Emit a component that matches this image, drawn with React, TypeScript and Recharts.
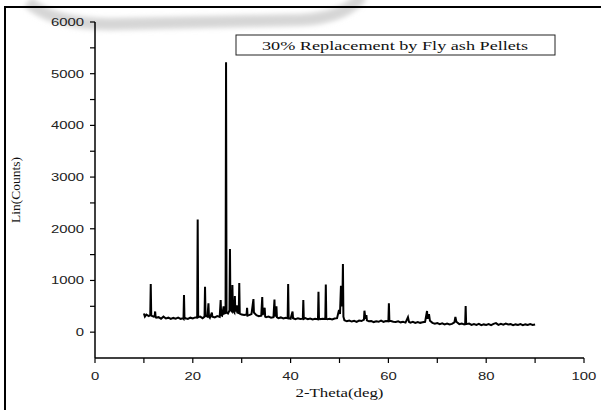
import { LineChart, Line, XAxis, YAxis } from "recharts";

// 2-theta (deg) vs counts
const scan10to30: [number, number][] = [
  [10.0, 360], [10.2, 300], [10.5, 340], [11.0, 310], [11.3, 330], [11.4, 930], [11.5, 320],
  [12.0, 300], [12.2, 310], [12.3, 400], [12.4, 290], [12.5, 280], [13.0, 290], [13.5, 260],
  [14.0, 300], [14.5, 265], [15.0, 280], [15.5, 255], [16.0, 275], [16.5, 260], [17.0, 280],
  [17.5, 255], [18.0, 270], [18.1, 260], [18.2, 720], [18.3, 265], [18.5, 270], [19.0, 255],
  [19.5, 280], [20.0, 265], [20.5, 285], [20.9, 280], [21.0, 2180], [21.1, 290], [21.5, 300],
  [22.0, 270], [22.4, 300], [22.5, 880], [22.6, 320], [23.0, 300], [23.2, 560], [23.3, 310],
  [23.5, 280], [23.9, 380], [24.0, 300], [24.5, 285], [25.0, 310], [25.5, 295], [25.7, 620],
  [25.8, 330], [26.0, 320], [26.3, 500], [26.4, 360], [26.7, 370], [26.8, 5220], [26.9, 380],
  [27.2, 360], [27.5, 420], [27.6, 1610], [27.7, 430], [28.0, 400], [28.1, 910], [28.2, 420],
  [28.5, 380], [28.6, 700], [28.7, 400], [29.0, 520], [29.1, 380], [29.4, 370], [29.5, 950],
  [29.6, 360], [30.0, 340],
];

const scan30to50: [number, number][] = [
  [30.5, 330], [31.0, 340], [31.1, 470], [31.2, 320], [31.5, 330], [32.0, 350], [32.4, 640],
  [32.5, 380], [33.0, 330], [33.5, 310], [34.0, 320], [34.2, 680], [34.3, 330], [34.7, 470],
  [34.8, 300], [35.0, 290], [35.5, 300], [36.0, 280], [36.5, 290], [36.7, 630], [36.8, 300],
  [37.1, 500], [37.2, 290], [37.5, 270], [38.0, 285], [38.5, 265], [39.0, 280], [39.4, 270],
  [39.5, 930], [39.6, 270], [40.0, 260], [40.4, 400], [40.5, 270], [41.0, 250], [41.5, 270],
  [42.0, 255], [42.5, 260], [42.6, 620], [42.7, 255], [43.0, 270], [43.5, 250], [44.0, 265],
  [44.5, 245], [45.0, 260], [45.6, 250], [45.7, 780], [45.8, 270], [46.0, 250], [46.5, 260],
  [47.1, 255], [47.2, 920], [47.3, 260], [47.5, 250], [48.0, 260], [48.5, 245], [49.0, 265],
  [49.5, 270], [49.9, 430], [50.1, 350], [50.3, 895], [50.4, 500], [50.6, 600], [50.7, 1320],
  [50.8, 300], [51.0, 230],
];

const scan50to70: [number, number][] = [
  [51.5, 210], [52.0, 225], [52.5, 205], [53.0, 220], [53.5, 200], [54.0, 225], [54.5, 215],
  [55.0, 240], [55.1, 415], [55.3, 260], [55.5, 330], [55.6, 230], [56.0, 210], [56.5, 215],
  [57.0, 195], [57.5, 210], [58.0, 200], [58.5, 225], [59.0, 200], [59.5, 215], [60.0, 210],
  [60.1, 560], [60.2, 220], [60.5, 215], [61.0, 200], [61.5, 195], [62.0, 210], [62.5, 190],
  [63.0, 200], [63.5, 185], [64.0, 290], [64.2, 200], [64.5, 185], [65.0, 200], [65.5, 180],
  [66.0, 195], [66.5, 180], [67.0, 190], [67.5, 200], [67.9, 410], [68.0, 260], [68.3, 350],
  [68.5, 220], [69.0, 180], [69.5, 165], [70.0, 175],
];

const scan70to90: [number, number][] = [
  [70.5, 155], [71.0, 170], [71.5, 150], [72.0, 165], [72.5, 150], [73.0, 160], [73.5, 190],
  [73.7, 295], [73.9, 200], [74.5, 155], [75.0, 165], [75.5, 150], [75.7, 160], [75.8, 505],
  [75.9, 155], [76.5, 165], [77.0, 140], [77.5, 155], [78.0, 140], [78.5, 160], [79.0, 135],
  [79.5, 150], [80.0, 140], [80.5, 155], [81.0, 135], [81.5, 160], [82.0, 175], [82.5, 140],
  [83.0, 160], [83.5, 145], [84.0, 165], [84.5, 150], [85.0, 155], [85.5, 135], [86.0, 150],
  [86.5, 140], [87.0, 155], [87.5, 135], [88.0, 150], [88.5, 140], [89.0, 155], [89.5, 140],
  [90.0, 150],
];

const xTicks = [0, 10, 20, 30, 40, 50, 60, 70, 80, 90, 100];
const yTicks = [0, 500, 1000, 1500, 2000, 2500, 3000, 3500, 4000, 4500, 5000, 5500, 6000];

const legendText = "30% Replacement by Fly ash Pellets";

const rows = [...scan10to30, ...scan30to50, ...scan50to70, ...scan70to90].map(([x, y]) => ({ x, y }));

const SANS = "'Liberation Sans', Arial, sans-serif";
const SERIF = "'Liberation Serif', 'Times New Roman', serif";

const XTick = ({ x, y, payload }: any) => {
  if (payload.value % 20 !== 0) return null;
  return (
    <g transform={`translate(${x},${y + 15}) scale(1.35,1)`}>
      <text textAnchor="middle" fontSize={11} fontFamily={SANS} fill="#222">
        {payload.value}
      </text>
    </g>
  );
};

const YTick = ({ x, y, payload }: any) => {
  if (payload.value % 1000 !== 0) return null;
  return (
    <g transform={`translate(${x - 4},${y + 4}) scale(1.35,1)`}>
      <text textAnchor="end" fontSize={11} fontFamily={SANS} fill="#222">
        {payload.value}
      </text>
    </g>
  );
};

export default function App() {
  return (
    <div style={{ position: "absolute", left: 0, top: 0, width: 601, height: 410, background: "#fff", overflow: "hidden" }}>
      {/* watermark + page frame */}
      <svg width={601} height={410} style={{ position: "absolute", left: 0, top: 0 }}>
        <defs>
          <filter id="blur" x="-10%" y="-50%" width="120%" height="200%">
            <feGaussianBlur stdDeviation="2.5" />
          </filter>
        </defs>
        <path
          d="M 28 2 Q 55 26 120 24 L 300 20 Q 345 18 362 -4"
          fill="none"
          stroke="#d6d6d6"
          strokeWidth={12}
          filter="url(#blur)"
        />
        <rect x={5} y={7} width={620} height={430} fill="none" stroke="#000" strokeWidth={2} />
      </svg>

      <div style={{ position: "absolute", left: 0, top: 0 }}>
        <LineChart width={601} height={410} data={rows} margin={{ top: 22, right: 17, bottom: 22, left: 5 }}>
          <XAxis
            type="number"
            dataKey="x"
            domain={[0, 100]}
            ticks={xTicks}
            interval={0}
            height={30}
            tick={<XTick />}
            tickSize={5}
            axisLine={{ stroke: "#000", strokeWidth: 1.5 }}
            tickLine={{ stroke: "#000", strokeWidth: 1.2 }}
            label={(props: any) => {
              const vb = props.viewBox;
              return (
                <g transform={`translate(${vb.x + vb.width / 2},${vb.y + 39}) scale(1.35,1)`}>
                  <text textAnchor="middle" fontSize={12.5} fontFamily={SERIF} fill="#111">
                    2-Theta(deg)
                  </text>
                </g>
              );
            }}
          />
          <YAxis
            type="number"
            dataKey="y"
            domain={[-500, 6000]}
            ticks={yTicks}
            interval={0}
            width={90}
            tick={<YTick />}
            tickSize={5}
            axisLine={{ stroke: "#000", strokeWidth: 1.5 }}
            tickLine={{ stroke: "#000", strokeWidth: 1.2 }}
            label={(props: any) => {
              const vb = props.viewBox;
              const cy = vb.y + vb.height / 2;
              return (
                <text
                  x={20}
                  y={cy}
                  transform={`rotate(-90, 20, ${cy})`}
                  textAnchor="middle"
                  fontSize={13.5}
                  fontFamily={SERIF}
                  fill="#111"
                >
                  Lin(Counts)
                </text>
              );
            }}
          />
          <Line
            type="linear"
            dataKey="y"
            stroke="#000"
            strokeWidth={2}
            dot={false}
            isAnimationActive={false}
          />
        </LineChart>
      </div>

      <svg width={601} height={410} style={{ position: "absolute", left: 0, top: 0, pointerEvents: "none" }}>
        <rect x={236} y={35} width={319} height={20} fill="#fff" stroke="#222" strokeWidth={1} />
        <text
          x={395}
          y={50}
          textAnchor="middle"
          fontSize={13.5}
          fontFamily={SERIF}
          fill="#111"
          textLength={266}
          lengthAdjust="spacingAndGlyphs"
        >
          {legendText}
        </text>
      </svg>
    </div>
  );
}
